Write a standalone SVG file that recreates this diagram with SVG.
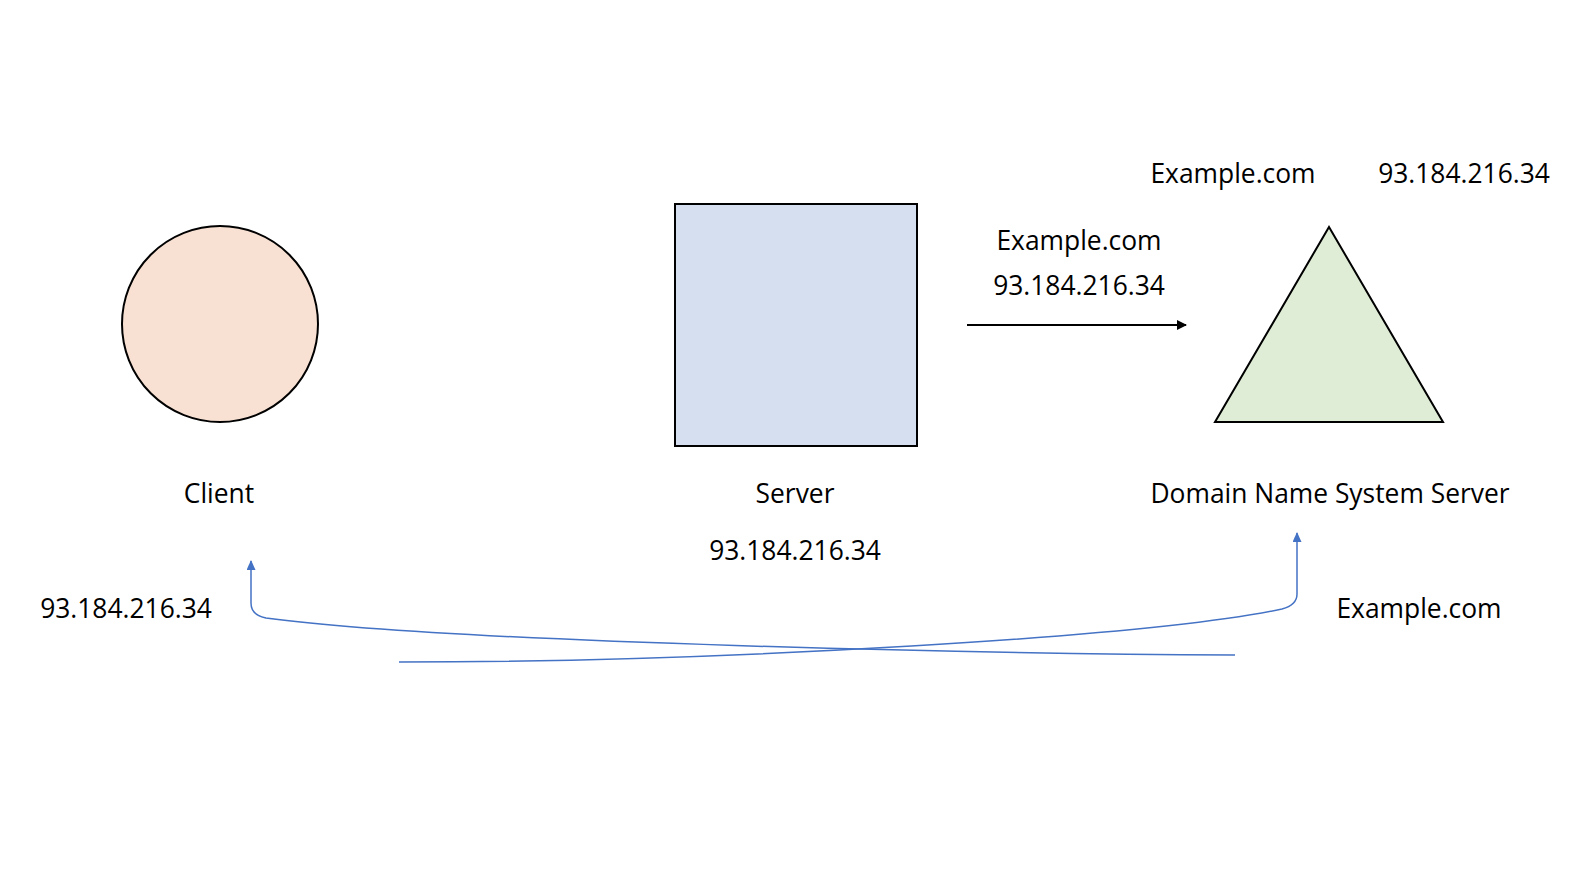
<svg xmlns="http://www.w3.org/2000/svg" width="1592" height="892" viewBox="0 0 1592 892">
<defs>
<style>
text{font-family:"Open Sans","Liberation Sans",sans-serif;font-size:26.4px;fill:#000;text-anchor:middle}
.shape{stroke:#000;stroke-width:2}
.blue{fill:none;stroke:#4472c4;stroke-width:1.5}
</style>
<marker id="ah" markerWidth="10" markerHeight="10" refX="9" refY="5" orient="auto" markerUnits="userSpaceOnUse"><path d="M0,0 L10,5 L0,10 Z" fill="#000"/></marker>
<marker id="ab" markerWidth="10" markerHeight="10" refX="9" refY="4.5" orient="auto" markerUnits="userSpaceOnUse"><path d="M0,0 L10,4.5 L0,9 Z" fill="#4472c4"/></marker>
</defs>
<rect width="1592" height="892" fill="#fff"/>
<g id="client">
<circle class="shape" cx="220" cy="324" r="98" fill="#f8e0d2"/>
<text x="219" y="503">Client</text>
</g>
<g id="server">
<rect class="shape" x="675" y="204" width="242" height="242" fill="#d6dff0"/>
<text x="795" y="503">Server</text>
<text x="795" y="560">93.184.216.34</text>
</g>
<g id="dns">
<polygon class="shape" points="1329,227 1443,422 1215,422" fill="#dfedd6"/>
<text x="1330" y="503">Domain Name System Server</text>
<text x="1233" y="183">Example.com</text>
<text x="1464" y="183">93.184.216.34</text>
</g>
<g id="labels">
<text x="1079" y="250">Example.com</text>
<text x="1079" y="295">93.184.216.34</text>
<text x="126" y="618">93.184.216.34</text>
<text x="1419" y="618">Example.com</text>
</g>
<g id="connectors">
<line x1="967" y1="325" x2="1186" y2="325" stroke="#000" stroke-width="2" marker-end="url(#ah)"/>
<path class="blue" d="M1235,655 C1010,654 450,643 266,618 Q251,615 251,603 L251,561" marker-end="url(#ab)"/>
<path class="blue" d="M399,662 C720,662 1150,637 1282,609 Q1297,605 1297,594 L1297,533" marker-end="url(#ab)"/>
</g>
</svg>
